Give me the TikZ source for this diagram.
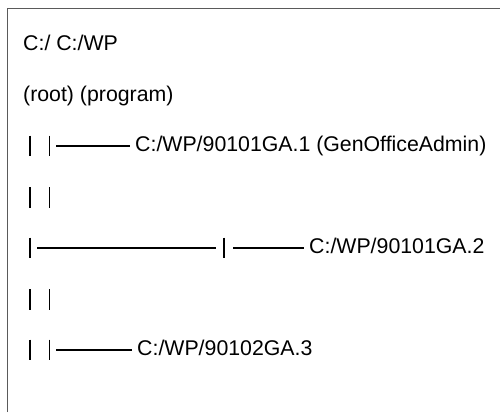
\documentclass[tikz,border=0pt]{standalone}
\usepackage{fontspec}
\setmainfont{Liberation Sans}
\definecolor{framegray}{HTML}{5A5A5A}
\begin{document}
\begin{tikzpicture}[x=1pt, y=-1pt,
  bar/.style={line width=1.8pt},
  tree/.style={line width=1.4pt, shorten >=5pt},
  lbl/.style={anchor=base west, inner sep=0pt, font=\fontsize{21.3}{25}\selectfont}]
  \useasboundingbox (0,0) rectangle (500,412);
  % frame
  \draw[framegray, line width=1.5pt] (7.5,412) -- (7.5,8.5) -- (500,8.5);
  % heading rows
  \node[lbl] (drives) at (23,50.5) {C:/ C:/WP};
  \node[lbl] (roles) at (23,101) {(root) (program)};
  % branch 1
  \node[lbl] (ga1) at (135,151.5) {C:/WP/90101GA.1 (GenOfficeAdmin)};
  \draw[bar] (30,135.5) -- (30,156);
  \draw[bar] (49.5,135.5) -- (49.5,156);
  \draw[tree] (56,146) -- (ga1.west |- 56,146);
  % spacer
  \draw[bar] (30,187) -- (30,207.5);
  \draw[bar] (49.5,187) -- (49.5,207.5);
  % branch 2
  \node[lbl] (ga2) at (309,253.5) {C:/WP/90101GA.2};
  \coordinate (fork) at (224,248);
  \draw[bar] (30,237.5) -- (30,258);
  \draw[tree] (37,248) -- (fork) [shorten >=8pt];
  \draw[bar] (fork |- 224,237.5) -- (fork |- 224,258);
  \draw[tree] ([xshift=9pt]fork) -- (ga2.west |- fork);
  % spacer
  \draw[bar] (30,289) -- (30,309.5);
  \draw[bar] (49.5,289) -- (49.5,309.5);
  % branch 3
  \node[lbl] (ga3) at (137,355.5) {C:/WP/90102GA.3};
  \draw[bar] (30,339.5) -- (30,360);
  \draw[bar] (49.5,339.5) -- (49.5,360);
  \draw[tree] (56,350) -- (ga3.west |- 56,350);
\end{tikzpicture}
\end{document}
